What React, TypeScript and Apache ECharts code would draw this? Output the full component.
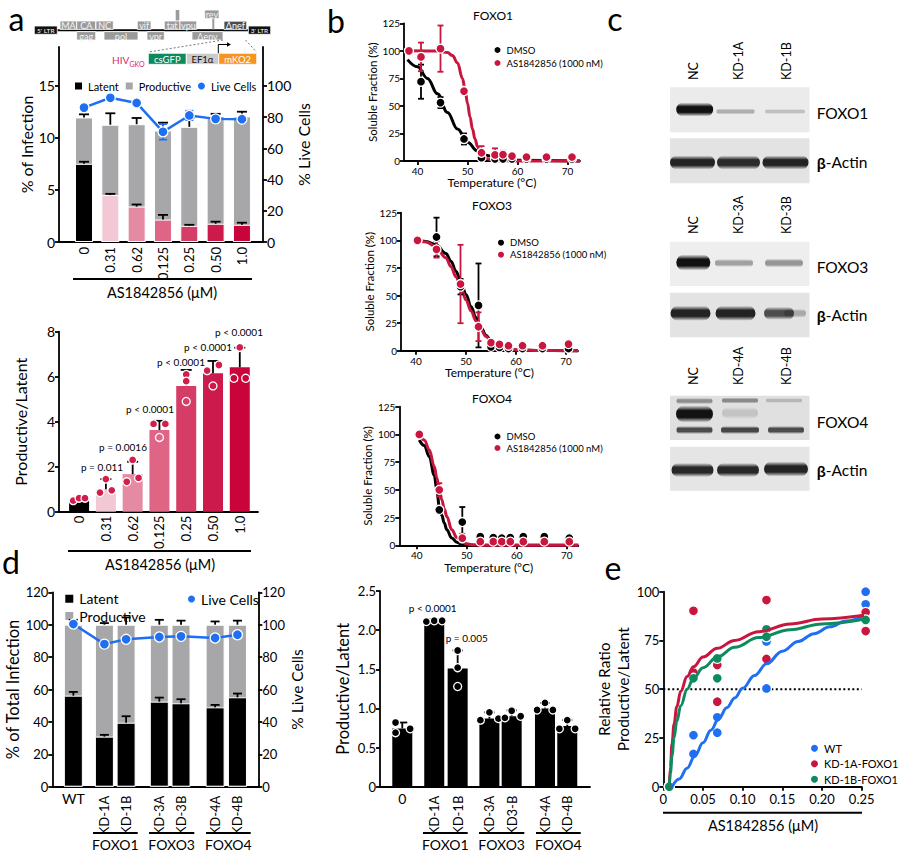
import React, { useEffect, useRef } from 'react';
import * as echarts from 'echarts';

const FONT = 'Lato, "Open Sans", sans-serif';
const BLUE = '#1f6ff2';
const RED = '#c8163f';
const GREEN = '#0e8b5e';
const GRAY = '#a7a7a9';

// ---------- panel a (top): infection composition ----------
const aDoses = ['0', '0.31', '0.62', '0.125', '0.25', '0.50', '1.0'];
const aLatent = [7.5, 4.5, 3.4, 2.15, 1.55, 1.75, 1.65];
const aLatentTop = [7.7, 4.62, 3.6, 2.6, 1.65, 1.95, 1.85];
const aProductive = [4.45, 6.75, 7.9, 8.55, 9.5, 10.35, 10.4];
const aTotalTop = [12.25, 12.35, 11.9, 11.45, 11.9, 12.3, 12.5];
const aLive = [86, 92.3, 89, 70.5, 81, 78.8, 78.6];
const aLiveLow = [85, 90.5, 87.5, 65.5, 78, 77.8, 77.6];
const aLiveHigh = [87, 94, 90.5, 75.5, 84, 79.8, 79.6];

// ---------- panel a (bottom): productive / latent ----------
const a2Means = [0.55, 1.0, 1.67, 3.63, 5.59, 6.15, 6.42];
const a2Top = [0.62, 1.45, 2.22, 4.04, 6.3, 6.7, 7.29];
const a2Points = [
  [0.49, 0.6, 0.6],
  [0.85, 1.45, 0.95],
  [1.33, 2.3, 1.5],
  [3.9, 3.3, 3.9],
  [6.1, 5.8, 4.9],
  [6.27, 5.59, 6.52],
  [5.93, 7.3, 5.93],
];
const a2PLabels = ['', 'p = 0.011', 'p = 0.0016', 'p < 0.0001', 'p < 0.0001', 'p < 0.0001', 'p < 0.0001'];

// ---------- panel b: thermal shift ----------
const f1Temps = [38.3, 40.7, 44.6, 49.3, 52.8, 55.5, 57.1, 58.9, 61.8, 65.8, 70.9];
const f1Dmso = [100, 72, 53, 20, 3, 2, 2, 2, 2, 2, 2];
const f1DmsoErr = [0, 15.5, 5, 5, 3, 0, 0, 0, 0, 0, 0];
const f1As = [100, 94.5, 102, 63.5, 7.5, 5.5, 5.8, 4.5, 3.6, 3.6, 3.6];
const f1AsErr = [0, 13, 21, 0, 6, 6, 3.5, 0, 0, 0, 0];
const f1FitT = [38, 40, 42, 44, 46, 48, 50, 52, 54, 56, 60, 72.5];
const f1FitDmso = [92, 85.5, 75, 61, 44, 29, 17, 9, 5, 2.5, 0.7, 0];
const f1FitAsT = [38, 44, 46, 47, 48, 49, 49.5, 50, 50.5, 51, 51.5, 52, 52.5, 53, 54, 55, 56, 60, 72.5];
const f1FitAs = [100, 99.8, 98.4, 95.7, 89, 75, 65, 52.5, 40, 29, 20, 13, 8.3, 5.2, 2, 0.7, 0.3, 0, 0];

const f3Temps = [40.3, 44.1, 48.9, 52.5, 55, 56.7, 58.5, 61.3, 65.3, 70.5];
const f3Dmso = [100, 103, 58, 41, 3.5, 3, 2, 2, 2, 2];
const f3DmsoErr = [0, 17.5, 7, 38, 2, 0, 0, 0, 0, 0];
const f3As = [100, 91.8, 60.4, 21.7, 7.3, 5.8, 4.5, 4.5, 4.5, 6];
const f3AsErr = [0, 7.5, 35.5, 13, 0, 0, 0, 0, 0, 3];
const f3FitT = [40, 42, 44, 46, 47, 48, 49, 50, 51, 52, 53, 54, 55, 56, 57, 58, 60, 65, 72.4];
const f3FitDmso = [100, 99, 96, 88, 81, 72, 62, 51, 40, 30, 21, 14, 9, 5.5, 3.3, 2, 0.7, 0.1, 0];
const f3FitAs = [100, 98.5, 94, 84, 76, 67, 57, 46, 36, 27, 19, 13, 8, 5, 3, 2, 0.7, 0.1, 0];

const f4Temps = [40.5, 44.5, 49.1, 52.7, 55.3, 57, 58.7, 61.3, 65.5, 70.5];
const f4Dmso = [100, 32, 21, 7.8, 7, 6.5, 7, 7.8, 7.8, 6.5];
const f4DmsoErr = [0, 3, 13.5, 0, 0, 0, 0, 0, 0, 0];
const f4As = [100, 50, 6.4, 3.3, 3.3, 3.3, 3.3, 3.3, 3.3, 3.3];
const f4AsErr = [0, 6, 4, 0, 0, 0, 0, 0, 0, 0];
const f4FitT = [40.5, 41.5, 42.5, 43.5, 44, 44.5, 45, 45.5, 46, 47, 48, 49, 50, 51, 53, 72.3];
const f4FitDmso = [95, 90, 80, 63, 50, 35, 27, 20, 14, 6.5, 2.8, 1, 0.3, 0, 0, 0];
const f4FitAs = [100, 95, 86, 71, 61, 50, 41, 33, 26, 14, 7, 3.2, 1.3, 0.5, 0, 0];

// ---------- panel d (left) ----------
const dCats = ['WT', 'KD-1A', 'KD-1B', 'KD-3A', 'KD-3B', 'KD-4A', 'KD-4B'];
const dLatent = [56.2, 30.9, 39.5, 52.5, 51.5, 49, 55.2];
const dLatentTop = [58.5, 32, 43.5, 55, 54, 50.5, 57.5];
const dProductive = [43.8, 69.1, 60.5, 47.5, 48.5, 51, 44.8];
const dTotalTop = [103, 101, 104.5, 103, 102.5, 102, 102.5];
const dLive = [100.4, 88, 91, 92.4, 92.8, 91.8, 93.8];
const dGroups = ['FOXO1', 'FOXO3', 'FOXO4'];

// ---------- panel d (right) ----------
const d2Cats = ['0', 'KD-1A', 'KD-1B', 'KD-3A', 'KD3-B', 'KD-4A', 'KD-4B'];
const d2Means = [0.745, 2.12, 1.51, 0.87, 0.9, 1.0, 0.775];
const d2Top = [0.82, 2.14, 1.74, 0.95, 0.975, 1.07, 0.85];
const d2Points = [
  [0.69, 0.82, 0.74],
  [2.11, 2.12, 2.12],
  [1.28, 1.74, 1.52],
  [0.85, 0.95, 0.87],
  [0.88, 0.97, 0.9],
  [0.98, 1.07, 0.98],
  [0.74, 0.85, 0.74],
];

// ---------- panel e ----------
const eTicks = [0, 0.05, 0.1, 0.15, 0.2, 0.25];
const eWtPts = [[0.0075, 0], [0.038, 26.4], [0.038, 16.8], [0.068, 35.6], [0.068, 27.7], [0.13, 50.4], [0.13, 74.5], [0.255, 100], [0.255, 93.5], [0.255, 86]];
const eKd1aPts = [[0.0075, 0], [0.038, 90.2], [0.038, 58.5], [0.068, 62.4], [0.068, 43.6], [0.13, 95.7], [0.13, 65.5], [0.255, 89.4], [0.255, 79.8]];
const eKd1bPts = [[0.0075, 0], [0.038, 55.6], [0.068, 65.8], [0.068, 55.6], [0.13, 80.7], [0.13, 76.9], [0.255, 85.5]];
const eFitWtX = [0.011, 0.02, 0.03, 0.04, 0.05, 0.06, 0.07, 0.08, 0.09, 0.1, 0.115, 0.13, 0.15, 0.17, 0.19, 0.21, 0.23, 0.255];
const eFitWtY = [0, 4, 9.5, 16, 22.5, 29, 35, 40.5, 45.5, 50.5, 57, 63, 69.5, 74.5, 78.5, 82, 85, 88];
const eFitKdX = [0.0075, 0.009, 0.011, 0.0135, 0.017, 0.022, 0.03, 0.038, 0.05, 0.068, 0.09, 0.12, 0.16, 0.2, 0.255];
const eFitKd1aY = [0, 10, 22, 32, 41, 49, 56.5, 61.5, 66.5, 71, 75, 79.5, 83.5, 86, 88];
const eFitKd1bY = [0, 7, 16, 25, 33.5, 41.5, 50, 55.5, 61, 66.5, 71.5, 76.5, 80.5, 83.5, 86];

// ---------- layout / style (not data) ----------
const aSlots = [0, 1, 2, 3, 4, 5, 6];
const aColors = ['#000000', '#f2c8d4', '#e48aa2', '#df6586', '#d53d66', '#cb1a4b', '#c8043b'];
const a2Jitter = [[-0.22, 0, 0.22], [-0.22, 0, 0.22], [-0.22, 0, 0.22], [-0.22, 0, 0.22], [0, 0, 0], [-0.22, 0, 0.22], [-0.22, 0, 0.22]];
const a2Hollow = [[], [], [], [1], [2], [1], [0, 2]];
const dSlots1 = [0, 1.43, 2.43, 3.96, 4.96, 6.53, 7.56];
const dSlots2 = [0, 1.42, 2.46, 3.87, 4.86, 6.34, 7.33];
const d2Jitter = [[-0.3, -0.3, 0.35], [-0.35, 0, 0.35], [0, 0, 0], [-0.4, 0, 0.4], [-0.3, 0, 0.4], [-0.35, 0, 0.35], [-0.35, 0, 0.35]];

const AXC = { color: '#000', width: 1.8 };
const near = (arr: number[], v: number) => arr.findIndex((s) => Math.abs(s - v) < 1e-6);

function xAx(grid: number, min: number, max: number, vals: number[], fmt: any, o: any = {}) {
  return {
    type: 'value', gridIndex: grid, min, max, position: 'bottom',
    axisLine: { show: o.line !== false, onZero: false, lineStyle: AXC },
    axisTick: { show: !!o.ticks, length: 4, lineStyle: AXC, customValues: vals },
    axisLabel: { customValues: vals, formatter: fmt, rotate: o.rotate || 0, margin: o.margin ?? 5, fontSize: o.fs ?? 13, fontFamily: FONT, color: '#000' },
    splitLine: { show: false },
    name: o.name, nameLocation: 'middle', nameGap: o.nameGap ?? 15,
    nameTextStyle: { fontSize: o.nameFs ?? 12, fontFamily: FONT, color: '#000' },
  };
}
function yAx(grid: number, max: number, vals: number[], o: any = {}) {
  return {
    type: 'value', gridIndex: grid, min: 0, max, position: o.pos || 'left',
    axisLine: { show: true, onZero: false, lineStyle: AXC },
    axisTick: { show: true, length: 4, lineStyle: AXC, customValues: vals },
    axisLabel: { customValues: vals, formatter: o.fmt, margin: 4, fontSize: o.fs ?? 13, fontFamily: FONT, color: '#000' },
    splitLine: { show: false },
    name: o.name, nameLocation: 'middle', nameGap: o.nameGap ?? 25,
    nameTextStyle: { fontSize: o.nameFs ?? 16, fontFamily: FONT, color: '#000', lineHeight: o.lh },
  };
}

function errSeries(xi: number, yi: number, data: number[][], color: string, cap: number, both: boolean, z = 4) {
  return {
    type: 'custom', xAxisIndex: xi, yAxisIndex: yi, z, silent: true,
    encode: { x: 0, y: [1, 2] }, data,
    renderItem: (_p: any, api: any) => {
      const x = api.value(0), lo = api.value(1), hi = api.value(2);
      const a = api.coord([x, lo]);
      const b = api.coord([x, hi]);
      const st = { stroke: color, lineWidth: 1.8 };
      const ch: any[] = [
        { type: 'line', shape: { x1: a[0], y1: a[1], x2: b[0], y2: b[1] }, style: st },
        { type: 'line', shape: { x1: b[0] - cap, y1: b[1], x2: b[0] + cap, y2: b[1] }, style: st },
      ];
      if (both) ch.push({ type: 'line', shape: { x1: a[0] - cap, y1: a[1], x2: a[0] + cap, y2: a[1] }, style: st });
      return { type: 'group', children: ch };
    },
  };
}
const symErr = (t: number[], v: number[], e: number[]) =>
  t.map((x, i) => [x, v[i] - e[i], v[i] + e[i]]).filter((_d, i) => e[i] > 0);
const zip = (xs: number[], ys: number[]) => xs.map((x, i) => [x, ys[i]]);

function fit(name: string, xi: number, yi: number, xs: number[], ys: number[], color: string, z = 3) {
  return {
    type: 'line', name, xAxisIndex: xi, yAxisIndex: yi, z, silent: true, clip: false,
    data: zip(xs, ys), smooth: 0.4, smoothMonotone: 'x', symbol: 'none',
    lineStyle: { color, width: 3 }, itemStyle: { color },
  };
}
function dots(name: string, xi: number, yi: number, data: any[], color: string, size = 9, z = 6) {
  return {
    type: 'scatter', name, xAxisIndex: xi, yAxisIndex: yi, z, data, symbolSize: size, clip: false,
    itemStyle: { color, borderColor: '#fff', borderWidth: 1.3, opacity: 1 },
  };
}
function barS(name: string, xi: number, yi: number, data: any[], color: string, w: number, border = true) {
  return {
    type: 'bar', name, xAxisIndex: xi, yAxisIndex: yi, barWidth: w, barGap: '-100%', z: 2, data,
    itemStyle: border ? { color, borderColor: '#fff', borderWidth: 1 } : { color },
  };
}

function band(cx: number, cy: number, w: number, h: number, a: number) {
  const c = (o: number) => `rgba(18,18,18,${o})`;
  return {
    type: 'rect', silent: true, shape: { x: cx - w / 2, y: cy - h / 2, width: w, height: h, r: h / 2 },
    style: { fill: { type: 'linear', x: 0, y: 0, x2: 0, y2: 1, colorStops: [
      { offset: 0, color: c(0) }, { offset: 0.3, color: c(a) }, { offset: 0.7, color: c(a) }, { offset: 1, color: c(0) },
    ] } },
  };
}
const txt = (text: string, x: number, y: number, fs: number, o: any = {}) => ({
  type: 'text', x, y, silent: true, rotation: o.rot || 0,
  style: { text, fontSize: fs, fontFamily: FONT, fill: o.fill || '#000', align: o.align || 'center', verticalAlign: 'middle', fontWeight: o.fw || 'normal', rich: o.rich },
});
const hline = (x1: number, x2: number, y: number, w = 2) => ({
  type: 'line', silent: true, shape: { x1, y1: y, x2, y2: y }, style: { stroke: '#000', lineWidth: w },
});
const box = (x1: number, x2: number, y1: number, y2: number, fill: string, label: string, tc = '#fff', fs = 8.5) => [
  { type: 'rect', silent: true, shape: { x: x1, y: y1, width: x2 - x1, height: y2 - y1 }, style: { fill, stroke: '#fff', lineWidth: 0.8 } },
  txt(label, (x1 + x2) / 2, (y1 + y2) / 2 + 0.3, fs, { fill: tc }),
];

function buildGraphic() {
  const els: any[] = [];
  // panel letters
  els.push(txt('a', 16.5, 18.5, 32), txt('b', 336, 20, 32), txt('c', 615, 18.5, 32), txt('d', 11, 561, 32), txt('e', 613, 567, 32));
  // HIV genome
  els.push(hline(57, 248, 30.3, 2));
  els.push(...box(34.3, 57.3, 26, 34.3, '#111', "5' LTR", '#fff', 6.5));
  els.push(...box(248.3, 270.7, 26, 34.3, '#111', "3' LTR", '#fff', 6.5));
  const topRow: [string, number, number][] = [['MA', 60, 76.7], ['CA', 76.7, 95.7], ['NC', 96, 113.3], ['vif', 137.3, 151], ['tat', 164.3, 180], ['vpu', 180, 196.7]];
  topRow.forEach(([l, a, b]) => els.push(...box(a, b, 21, 29.4, '#9b9b9b', l, '#f4f4f4', 9)));
  const botRow: [string, number, number][] = [['gag', 76.7, 95.7], ['pol', 104, 138], ['vpr', 147, 164.3], ['Δenv', 192, 223]];
  botRow.forEach(([l, a, b]) => els.push(...box(a, b, 31.6, 40, '#9b9b9b', l, '#f4f4f4', 9)));
  els.push(...box(204.7, 219, 10, 18.6, '#9b9b9b', 'rev', '#f4f4f4', 9));
  els.push({ type: 'rect', silent: true, shape: { x: 175.7, y: 10, width: 3.6, height: 10.5 }, style: { fill: '#9b9b9b' } });
  els.push({ type: 'rect', silent: true, shape: { x: 212.3, y: 18.6, width: 2, height: 10.8 }, style: { fill: '#9b9b9b' } });
  els.push(...box(224, 246.7, 21.2, 29.6, '#4a4a4a', 'Δnef', '#fff', 9));
  els.push({ type: 'line', silent: true, shape: { x1: 223, y1: 40, x2: 149, y2: 52 }, style: { stroke: '#666', lineWidth: 0.9, lineDash: [2, 2] } });
  els.push({ type: 'line', silent: true, shape: { x1: 245.5, y1: 40, x2: 256.5, y2: 52 }, style: { stroke: '#666', lineWidth: 0.9, lineDash: [2, 2] } });
  els.push(...box(148.3, 186.3, 53.3, 64.3, '#0c8a5c', 'csGFP', '#fff', 9.5));
  els.push(...box(186.3, 218.7, 53.3, 64.3, '#cbcbcb', 'EF1α', '#111', 9.5));
  els.push(...box(218.7, 256.7, 53.3, 64.3, '#f7941e', 'mKO2', '#fff', 9.5));
  els.push({ type: 'polyline', silent: true, shape: { points: [[218.3, 53.3], [218.3, 44.5], [228, 44.5]] }, style: { stroke: '#000', lineWidth: 1, fill: 'none' } });
  els.push({ type: 'polygon', silent: true, shape: { points: [[231, 44.5], [227, 42.3], [227, 46.7]] }, style: { fill: '#000' } });
  els.push(txt('HIV', 112, 60, 10, { align: 'left', fill: '#e0226e' }));
  els.push(txt('GKO', 129.5, 63.5, 7, { align: 'left', fill: '#e0226e' }));
  // panel a axis-group labels
  els.push(hline(73, 252, 279), txt('AS1842856 (μM)', 162, 292, 14.5));
  els.push(hline(68, 251, 551), txt('AS1842856 (μM)', 160, 564, 14.5));
  // p values a bottom
  const pPos: [number, number][] = [[0, 0], [102, 466.7], [123, 446.7], [150, 409], [181, 361.7], [208, 347], [239, 331.7]];
  a2PLabels.forEach((p, i) => { if (p) els.push(txt(p, pPos[i][0], pPos[i][1], 10)); });
  // panel b titles
  els.push(txt('FOXO1', 493, 15, 12), txt('FOXO3', 492, 205, 12), txt('FOXO4', 492, 398, 12));
  // panel c blots
  const lanesX = [693.3, 738.3, 786.7];
  const laneSets = [['NC', 'KD-1A', 'KD-1B'], ['NC', 'KD-3A', 'KD-3B'], ['NC', 'KD-4A', 'KD-4B']];
  const laneBase = [80, 234, 385];
  laneSets.forEach((ls, k) => ls.forEach((l, i) => els.push(txt(l, lanesX[i], laneBase[k], 12.5, { align: 'left', rot: Math.PI / 2 }))));
  const blots: [number, number, string][] = [[87.3, 45, '#ebebeb'], [138.3, 45, '#e3e3e3'], [241.7, 44.3, '#eeeeee'], [292.7, 44.6, '#e3e3e3'], [395.7, 44.3, '#e0e0e0'], [446.7, 44, '#e5e5e5']];
  blots.forEach(([y, h, c]) => els.push({ type: 'rect', silent: true, shape: { x: 670, y, width: 139.5, height: h }, style: { fill: c } }));
  els.push(band(694.7, 109.5, 37, 14, 1), band(735.5, 111.5, 38, 6, 0.28), band(785, 111.5, 40, 5, 0.2));
  els.push(band(692.5, 162.5, 45, 14, 0.92), band(738.5, 162.5, 43, 14, 0.88), band(785.5, 162.5, 46, 14, 0.92));
  els.push(band(693.3, 262.5, 34, 16, 1), band(734, 263, 38, 8, 0.35), band(784, 263, 38, 9, 0.4));
  els.push(band(690.5, 313.3, 40, 15, 0.92), band(735.5, 313.3, 40, 15, 0.92), band(779, 313.3, 30, 13, 0.72), band(795, 313.3, 22, 9, 0.28));
  els.push(band(694.5, 401, 36, 6, 0.4), band(694.5, 414, 37, 17, 1), band(694.5, 430, 36, 8, 0.72));
  els.push(band(740, 400.5, 36, 6, 0.42), band(740, 413, 36, 12, 0.14), band(740, 430, 38, 8, 0.75));
  els.push(band(784, 400.5, 36, 5, 0.2), band(786, 430, 36, 8, 0.72));
  els.push(band(692.5, 470, 42, 14, 0.9), band(738, 470, 42, 14, 0.9), band(786, 469, 44, 15, 0.92));
  const richB = { b: { fontWeight: 'bold', fontSize: 16, fontFamily: FONT } };
  const rightLbl: [string, number][] = [['FOXO1', 112.7], ['{b|β}-Actin', 162], ['FOXO3', 266.7], ['{b|β}-Actin', 315], ['FOXO4', 421.7], ['{b|β}-Actin', 470]];
  rightLbl.forEach(([l, y]) => els.push(txt(l, 816.7, y, 15.5, { align: 'left', rich: richB })));
  // panel d group lines
  const g1: [number, number][] = [[93, 137.7], [149, 194.3], [206, 250.7]];
  const g2: [number, number][] = [[423, 467.7], [479, 524.3], [536, 580.7]];
  dGroups.forEach((g, i) => {
    els.push(hline(g1[i][0], g1[i][1], 833), txt(g, (g1[i][0] + g1[i][1]) / 2, 844, 14));
    els.push(hline(g2[i][0], g2[i][1], 833), txt(g, (g2[i][0] + g2[i][1]) / 2, 844, 14));
  });
  els.push(txt('p < 0.0001', 432.7, 608.3, 10), txt('p = 0.005', 466.7, 638.3, 10));
  // panel e axis group label
  els.push(hline(663, 862, 812.7), txt('AS1842856 (μM)', 763, 825, 14.5));
  return els;
}

function buildOption(): any {
  const aFmt = (v: number) => aDoses[near(aSlots, v)] ?? '';
  const d1Fmt = (v: number) => dCats[near(dSlots1, v)] ?? '';
  const d2Fmt = (v: number) => d2Cats[near(dSlots2, v)] ?? '';
  const bT = [40, 50, 60, 70];
  const bY = [0, 25, 50, 75, 100, 125];
  const bx = (g: number, min: number, max: number) => xAx(g, min, max, bT, (v: number) => String(v), { ticks: true, fs: 10, name: 'Temperature (°C)', nameGap: 14, nameFs: 12 });
  const by = (g: number, gap: number) => yAx(g, 125, bY, { fs: 10, name: 'Soluble Fraction (%)', nameGap: gap, nameFs: 11.5 });

  const xAxis = [
    xAx(0, -0.95, 6.8, aSlots, aFmt, { rotate: 90, margin: 5, fs: 13 }),
    xAx(1, -0.75, 6.68, aSlots, aFmt, { rotate: 90, margin: 4, fs: 13 }),
    bx(2, 37.3, 72.5),
    bx(3, 37, 72.4),
    bx(4, 36.5, 72.3),
    xAx(5, -0.97, 8.52, dSlots1.slice(1), d1Fmt, { rotate: 90, margin: 9, fs: 13 }),
    xAx(6, -0.99, 8.34, dSlots2.slice(1), d2Fmt, { rotate: 90, margin: 9, fs: 13 }),
    xAx(7, 0, 0.25, eTicks, (v: number) => (v === 0 ? '0' : v.toFixed(2)), { ticks: true, fs: 13, margin: 6 }),
    xAx(5, -0.97, 8.52, [dSlots1[0]], d1Fmt, { line: false, margin: 5, fs: 14 }),
    xAx(6, -0.99, 8.34, [dSlots2[0]], d2Fmt, { line: false, margin: 5, fs: 14 }),
  ];
  const yAxis = [
    yAx(0, 18.71, [0, 5, 10, 15], { fs: 14, name: '% of Infection', nameGap: 23 }),
    yAx(0, 124.8, [0, 20, 40, 60, 80, 100], { pos: 'right', fs: 14, name: '% Live Cells', nameGap: 30 }),
    yAx(1, 8, [0, 2, 4, 6, 8], { fs: 14, name: 'Productive/Latent', nameGap: 31 }),
    by(2, 20),
    by(3, 21),
    by(4, 19),
    yAx(5, 120, [0, 20, 40, 60, 80, 100, 120], { fs: 13, name: '% of Total Infection', nameGap: 30, nameFs: 16.5 }),
    yAx(5, 120, [0, 20, 40, 60, 80, 100, 120], { pos: 'right', fs: 13, name: '% Live Cells', nameGap: 29, nameFs: 15.5 }),
    yAx(6, 2.5, [0, 0.5, 1, 1.5, 2, 2.5], { fs: 13, name: 'Productive/Latent', nameGap: 29, nameFs: 16.5, fmt: (v: number) => (v === 0 ? '0' : v.toFixed(1)) }),
    yAx(7, 100, [0, 25, 50, 75, 100], { fs: 13, name: 'Relative Ratio\nProductive/Latent', nameGap: 22, nameFs: 15.5, lh: 19 }),
  ];

  const series: any[] = [];
  // ---- a top (productive bar drawn as the stacked total behind the latent bar)
  series.push(barS('Productive', 0, 0, aSlots.map((s, i) => [s, aLatent[i] + aProductive[i]]), GRAY, 18));
  series.push(barS('Latent', 0, 0, aSlots.map((s, i) => ({ value: [s, aLatent[i]], itemStyle: { color: aColors[i] } })), '#000', 18));
  series.push(errSeries(0, 0, aSlots.map((s, i) => [s, aLatent[i], aLatentTop[i]]), '#000', 5, false));
  series.push(errSeries(0, 0, aSlots.map((s, i) => [s, aLatent[i] + aProductive[i], aTotalTop[i]]), '#000', 5, false));
  series.push(errSeries(0, 1, aSlots.map((s, i) => [s, aLiveLow[i], aLiveHigh[i]]), BLUE, 4, true, 5));
  series.push({
    type: 'line', name: 'Live Cells', xAxisIndex: 0, yAxisIndex: 1, z: 6, data: zip(aSlots, aLive),
    symbol: 'circle', symbolSize: 10, lineStyle: { color: BLUE, width: 2.5 },
    itemStyle: { color: BLUE, borderColor: '#fff', borderWidth: 1.3 },
  });
  // ---- a bottom
  series.push(barS('ratioA', 1, 2, aSlots.map((s, i) => ({ value: [s, a2Means[i]], itemStyle: { color: aColors[i] } })), '#000', 20, false));
  series.push(errSeries(1, 2, aSlots.map((s, i) => [s, a2Means[i], a2Top[i]]), '#000', 5.5, false));
  const a2Pts: any[] = [];
  a2Points.forEach((pts, i) => pts.forEach((v, j) => {
    const hollow = a2Hollow[i].includes(j);
    a2Pts.push({ value: [aSlots[i] + a2Jitter[i][j], v], itemStyle: hollow ? { color: 'rgba(0,0,0,0)', borderColor: '#fff', borderWidth: 1.3 } : undefined });
  }));
  series.push(dots('ptsA', 1, 2, a2Pts, '#d11f4b', 8));
  // ---- b
  const bSets = [
    [f1Temps, f1Dmso, f1DmsoErr, f1As, f1AsErr, f1FitT, f1FitDmso, f1FitAsT, f1FitAs],
    [f3Temps, f3Dmso, f3DmsoErr, f3As, f3AsErr, f3FitT, f3FitDmso, f3FitT, f3FitAs],
    [f4Temps, f4Dmso, f4DmsoErr, f4As, f4AsErr, f4FitT, f4FitDmso, f4FitT, f4FitAs],
  ];
  bSets.forEach((s, k) => {
    const xi = 2 + k, yi = 3 + k;
    const [t, dm, dme, as, ase, ft, fdm, fta, fas] = s;
    series.push(fit('DMSO fit', xi, yi, ft, fdm, '#000', 3));
    series.push(fit('AS fit', xi, yi, fta, fas, RED, 3));
    series.push(errSeries(xi, yi, symErr(t, dm, dme), '#000', 3, true, 4));
    series.push(errSeries(xi, yi, symErr(t, as, ase), RED, 3, true, 4));
    series.push(dots('DMSO', xi, yi, zip(t, dm), '#000', 9, 6));
    series.push(dots('AS1842856 (1000 nM)', xi, yi, zip(t, as), RED, 9, 7));
  });
  // ---- d left
  series.push(barS('Productive', 5, 6, dSlots1.map((s, i) => [s, dLatent[i] + dProductive[i]]), GRAY, 19));
  series.push(barS('Latent', 5, 6, zip(dSlots1, dLatent), '#000', 19));
  series.push(errSeries(5, 6, dSlots1.map((s, i) => [s, dLatent[i], dLatentTop[i]]), '#000', 4.5, false));
  series.push(errSeries(5, 6, dSlots1.map((s, i) => [s, dLatent[i] + dProductive[i], dTotalTop[i]]), '#000', 4.5, false));
  series.push({
    type: 'line', name: 'Live Cells', xAxisIndex: 5, yAxisIndex: 7, z: 6, data: zip(dSlots1, dLive),
    symbol: 'circle', symbolSize: 10, lineStyle: { color: BLUE, width: 2.5 },
    itemStyle: { color: BLUE, borderColor: '#fff', borderWidth: 1.3 },
  });
  // ---- d right
  series.push(barS('ratioD', 6, 8, zip(dSlots2, d2Means), '#000', 20, false));
  series.push(errSeries(6, 8, dSlots2.map((s, i) => [s, d2Means[i], d2Top[i]]), '#000', 5, false));
  const d2Pts: any[] = [];
  d2Points.forEach((pts, i) => pts.forEach((v, j) => d2Pts.push([dSlots2[i] + d2Jitter[i][j], v])));
  series.push(dots('ptsD', 6, 8, d2Pts, '#000', 8));
  // ---- e
  series.push({
    type: 'line', name: 'half', xAxisIndex: 7, yAxisIndex: 9, z: 2, silent: true, symbol: 'none',
    data: [[0, 50], [0.25, 50]], lineStyle: { color: '#000', width: 2, type: [2, 2.5] },
  });
  series.push(dots('WT', 7, 9, eWtPts, BLUE, 10, 5));
  series.push(dots('KD-1A-FOXO1', 7, 9, eKd1aPts, RED, 10, 5));
  series.push(dots('KD-1B-FOXO1', 7, 9, eKd1bPts, GREEN, 10, 5));
  series.push(fit('WT fit', 7, 9, eFitWtX, eFitWtY, BLUE, 6));
  series.push(fit('KD-1A fit', 7, 9, eFitKdX, eFitKd1aY, RED, 6));
  series.push(fit('KD-1B fit', 7, 9, eFitKdX, eFitKd1bY, GREEN, 6));

  const lt = { fontSize: 11, fontFamily: FONT, color: '#000' };
  const legend = [
    { left: 68, top: 75.5, itemWidth: 9, itemHeight: 9, itemGap: 5, selectedMode: false, textStyle: lt,
      data: [{ name: 'Latent', icon: 'rect' }, { name: 'Productive', icon: 'rect' }, { name: 'Live Cells', icon: 'circle' }] },
    { left: 487.5, top: 40, orient: 'vertical', itemWidth: 8, itemHeight: 8, itemGap: 3, selectedMode: false, textStyle: { ...lt, fontSize: 9.5 },
      data: [{ name: 'DMSO', icon: 'circle' }, { name: 'AS1842856 (1000 nM)', icon: 'circle' }] },
    { left: 491, top: 232.7, orient: 'vertical', itemWidth: 8, itemHeight: 8, itemGap: 2, selectedMode: false, textStyle: { ...lt, fontSize: 9.5 },
      data: [{ name: 'DMSO', icon: 'circle' }, { name: 'AS1842856 (1000 nM)', icon: 'circle' }] },
    { left: 487.5, top: 426.5, orient: 'vertical', itemWidth: 8, itemHeight: 8, itemGap: 1.5, selectedMode: false, textStyle: { ...lt, fontSize: 9.5 },
      data: [{ name: 'DMSO', icon: 'circle' }, { name: 'AS1842856 (1000 nM)', icon: 'circle' }] },
    { left: 58.3, top: 586.7, orient: 'vertical', itemWidth: 10, itemHeight: 10, itemGap: 3.3, selectedMode: false, textStyle: { ...lt, fontSize: 14 },
      data: [{ name: 'Latent', icon: 'rect' }, { name: 'Productive', icon: 'rect' }] },
    { left: 181, top: 587, itemWidth: 9, itemHeight: 9, selectedMode: false, textStyle: { ...lt, fontSize: 14 },
      data: [{ name: 'Live Cells', icon: 'circle' }] },
    { left: 804, top: 737.7, orient: 'vertical', itemWidth: 9, itemHeight: 9, itemGap: 4.5, selectedMode: false, textStyle: { ...lt, fontSize: 11 },
      data: [{ name: 'WT', icon: 'circle' }, { name: 'KD-1A-FOXO1', icon: 'circle' }, { name: 'KD-1B-FOXO1', icon: 'circle' }] },
  ];

  return {
    animation: false,
    backgroundColor: '#fff',
    textStyle: { fontFamily: FONT },
    grid: [
      { left: 59, top: 47, width: 204, height: 195 },
      { left: 59, top: 331.7, width: 199, height: 180 },
      { left: 404, top: 23.3, width: 176, height: 137.7 },
      { left: 401, top: 212.7, width: 177, height: 138 },
      { left: 399.3, top: 406.7, width: 179, height: 138.6 },
      { left: 52.3, top: 592.3, width: 206, height: 194.4 },
      { left: 380, top: 591, width: 210, height: 195.7 },
      { left: 663.3, top: 591.7, width: 198.4, height: 195 },
    ],
    xAxis, yAxis, series, legend,
    graphic: { elements: buildGraphic() },
  };
}

export default function App() {
  const ref = useRef<HTMLDivElement>(null);
  useEffect(() => {
    const chart = echarts.init(ref.current as HTMLDivElement, null, { renderer: 'svg' });
    chart.setOption(buildOption());
    return () => chart.dispose();
  }, []);
  return <div ref={ref} style={{ position: 'absolute', left: 0, top: 0, width: 900, height: 852, background: '#fff' }} />;
}
